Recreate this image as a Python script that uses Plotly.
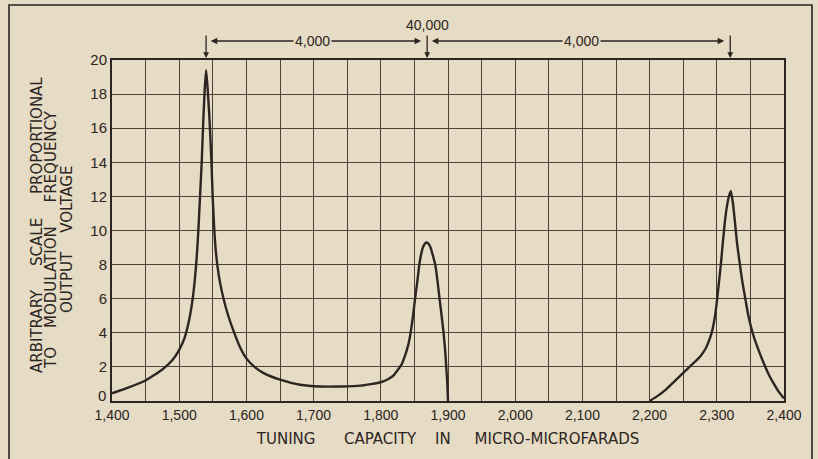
import plotly.graph_objects as go

# ---- data ----
capacity = [1400, 1425, 1450, 1475, 1490, 1500, 1508, 1514, 1519, 1523, 1526, 1528.5, 1531, 1533.5,
            1536, 1538, 1540, 1542, 1545, 1548, 1550, 1552, 1554, 1557, 1561, 1566, 1573, 1580,
            1590, 1600, 1612, 1625, 1650, 1680, 1710, 1740, 1770, 1800, 1812, 1819, 1824, 1831,
            1838, 1841.5, 1844.4, 1848, 1851, 1854.3, 1857.3, 1860, 1863, 1866, 1868.3, 1871,
            1874, 1877, 1881, 1884.5, 1887.4, 1890.5, 1893.4, 1895.7, 1897.4, 1899, 1900,
            None,
            2200, 2212, 2225, 2237, 2250, 2262, 2275, 2283, 2289, 2293, 2297, 2300, 2303, 2306,
            2309, 2312, 2315, 2318, 2321, 2324, 2327, 2330, 2334, 2338, 2342, 2347, 2354, 2362,
            2370, 2378, 2385, 2392, 2400]
voltage = [0.45, 0.8, 1.2, 1.85, 2.4, 3.0, 3.7, 4.6, 5.7, 7.0, 8.4, 10.0, 12.0, 14.0,
           16.6, 18.3, 19.4, 18.5, 16.6, 14.0, 11.8, 10.2, 9.0, 7.9, 6.9, 6.0, 5.0, 4.2,
           3.2, 2.5, 2.0, 1.65, 1.25, 0.95, 0.85, 0.85, 0.9, 1.1, 1.3, 1.5, 1.76, 2.15,
           2.9, 3.4, 4.0, 5.0, 6.0, 7.0, 8.0, 8.6, 9.05, 9.25, 9.3, 9.22,
           9.0, 8.6, 8.0, 7.0, 6.0, 5.0, 4.0, 3.0, 2.0, 1.0, 0.0,
           None,
           0.0, 0.3, 0.7, 1.15, 1.65, 2.1, 2.6, 3.05, 3.6, 4.1, 4.9, 5.8, 6.9, 8.0,
           9.3, 10.5, 11.4, 12.0, 12.3, 11.6, 10.5, 9.3, 8.1, 7.0, 6.1, 5.0, 3.9, 3.0,
           2.2, 1.5, 1.0, 0.55, 0.15]

marker_caps = [1540, 1869, 2320]          # resonance markers above the grid
span_labels = ["4,000", "4,000"]          # labels between markers
span_label_pos = [1699, 2099]
marker_label = "40,000"

x_ticks = list(range(1400, 2401, 100))
y_ticks = list(range(2, 21, 2))
y_zero_label = "0"

NB = "\u00a0"
x_title = ("TUNING" + NB * 6 + "CAPACITY" + NB * 4 + "IN" + NB * 5 + "MICRO-MICROFARADS")
y_title_lines = ["ARBITRARY" + NB * 5 + "SCALE" + NB * 5 + "PROPORTIONAL",
                 "TO" + NB * 4 + "MODULATION" + NB * 5 + "FREQUENCY",
                 "OUTPUT" + NB * 4 + "VOLTAGE"]

# ---- styling ----
BG = "#e6dbc4"
INK = "#2c2522"
GRID = "#4e4038"
FONT = "Liberation Sans"
TFONT = "DejaVu Sans"

L, R, T, B = 112, 34, 60, 58
W, H = 818, 459
PW, PH = W - L - R, H - T - B


def px(X):   # page pixel -> paper x
    return (X - L) / PW


def py(Y):   # page pixel -> paper y
    return (H - B - Y) / PH


fig = go.Figure()
fig.add_trace(go.Scatter(
    x=capacity, y=voltage, mode="lines", connectgaps=False,
    line=dict(color=INK, width=2.4, shape="spline", smoothing=0.45),
    hoverinfo="skip", showlegend=False))

fig.update_layout(
    width=W, height=H,
    paper_bgcolor=BG, plot_bgcolor=BG,
    margin=dict(l=L, r=R, t=T, b=B, autoexpand=False),
    font=dict(family=FONT, color=INK, size=14),
    showlegend=False,
)
fig.update_xaxes(
    range=[1400, 2400], tickvals=x_ticks, tickformat=",",
    showgrid=True, gridcolor=GRID, gridwidth=1.2,
    minor=dict(dtick=50, showgrid=True, gridcolor=GRID, gridwidth=1.2),
    showline=True, linecolor=INK, linewidth=2, mirror=True,
    ticks="", zeroline=False, automargin=False,
    tickfont=dict(family=FONT, size=14, color=INK),
    title=dict(text=x_title, font=dict(family=TFONT, size=15, color=INK), standoff=12),
)
fig.update_yaxes(
    range=[0, 20], tickvals=y_ticks,
    showgrid=True, gridcolor=GRID, gridwidth=1.2,
    showline=True, linecolor=INK, linewidth=2, mirror=True,
    ticks="", zeroline=False, automargin=False,
    tickfont=dict(family=FONT, size=15, color=INK),
)
# raised "0" label at the bottom of the value axis
fig.add_annotation(text=y_zero_label, xref="paper", yref="y", x=px(108), y=0, yshift=6,
                   xanchor="right", yanchor="middle", showarrow=False,
                   font=dict(family=FONT, size=15, color=INK))

# y-axis title: three stacked rotated lines
for line_txt, X, Yc in zip(y_title_lines, (37, 51, 67), (225, 240, 240)):
    fig.add_annotation(text=line_txt, xref="paper", yref="paper", x=px(X), y=py(Yc),
                       xanchor="center", yanchor="middle", textangle=-90, showarrow=False,
                       font=dict(family=TFONT, size=15, color=INK))

# frame around the whole figure (bottom edge lies below the picture)
fig.add_shape(type="rect", xref="paper", yref="paper", x0=px(9), x1=px(812), y0=py(475), y1=py(5),
              line=dict(color=INK, width=1.6), layer="below")

# resonance markers (short down arrows on top of grid)
for c in marker_caps:
    fig.add_annotation(x=c, y=py(58), xref="x", yref="paper", ax=0, ay=-24,
                       axref="pixel", ayref="pixel",
                       text="", showarrow=True, arrowhead=2, arrowsize=0.9, arrowwidth=1.3,
                       arrowcolor=INK)

# spans between markers with double-headed arrows and label
for i, lab in enumerate(span_labels):
    left, right = marker_caps[i], marker_caps[i + 1]
    mid = span_label_pos[i]
    for end in (left + 7, right - 9):
        fig.add_annotation(x=end, y=py(41), xref="x", yref="paper", ax=mid, ay=0,
                           axref="x", ayref="pixel",
                           text="", showarrow=True, arrowhead=2, arrowsize=1.0, arrowwidth=1.3,
                           arrowcolor=INK)
    fig.add_annotation(x=mid, y=py(41), xref="x", yref="paper", text=lab, showarrow=False,
                       xanchor="center", yanchor="middle",
                       bgcolor=BG, borderpad=1, font=dict(family=FONT, size=14, color=INK))

fig.add_annotation(x=marker_caps[1], y=py(25), xref="x", yref="paper", text=marker_label,
                   xanchor="center", yanchor="middle",
                   showarrow=False, font=dict(family=FONT, size=14, color=INK))

fig.write_html("out.html", config={"displayModeBar": False},
               post_script="document.body.style.margin='0';")
